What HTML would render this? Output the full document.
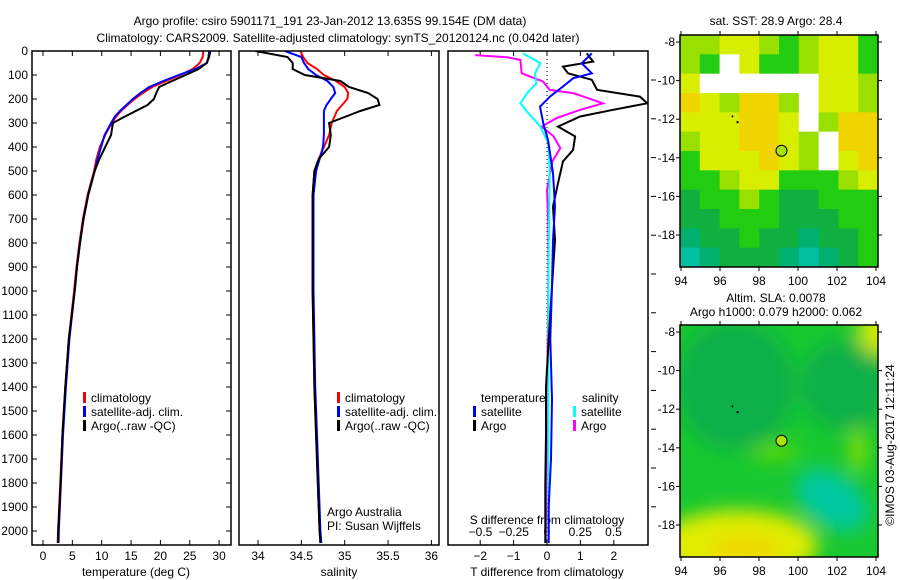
<!DOCTYPE html>
<html><head><meta charset="utf-8"><style>
body{margin:0;background:#fff;}
svg{display:block;font-family:"Liberation Sans",sans-serif;font-size:12px;}
</style></head><body>
<svg id="c" width="900" height="580" viewBox="0 0 900 580"></svg>
<script>
const depths=[0,25,50,75,100,125,150,175,200,225,250,275,300,350,400,450,500,600,700,800,900,1000,1200,1400,1600,1800,2000,2050];
const tempClim=[27.3,27.2,26.7,25.5,23.4,21.0,18.6,17.0,15.6,14.4,13.3,12.4,11.7,10.6,9.7,9.1,8.7,7.6,6.8,6.2,5.7,5.3,4.4,3.8,3.3,2.95,2.55,2.5];
const tempSat=[28.3,28.2,27.9,26.0,23.1,20.5,18.1,16.6,15.3,14.2,13.1,12.2,11.6,10.5,9.9,9.3,8.8,7.7,6.9,6.3,5.8,5.4,4.5,3.9,3.4,3.05,2.7,2.65];
const tempArgo=[28.5,28.3,27.9,26.5,24.3,22.0,19.8,19.3,18.9,17.8,15.8,13.8,11.9,11.6,10.6,9.6,8.8,7.7,6.9,6.3,5.8,5.4,4.4,3.8,3.3,3.0,2.6,2.55];
const salClim=[34.49,34.52,34.57,34.68,34.76,34.90,35.0,35.04,35.03,34.97,34.91,34.88,34.85,34.82,34.76,34.70,34.65,34.63,34.63,34.63,34.63,34.63,34.64,34.65,34.67,34.69,34.71,34.72];
const salSat=[34.31,34.50,34.53,34.58,34.67,34.80,34.87,34.89,34.84,34.79,34.76,34.76,34.76,34.76,34.75,34.71,34.67,34.64,34.64,34.64,34.64,34.64,34.65,34.66,34.68,34.70,34.72,34.73];
const salArgo=[33.97,34.34,34.40,34.40,34.54,34.95,35.05,35.27,35.38,35.40,35.18,35.0,34.82,34.84,34.82,34.70,34.65,34.63,34.63,34.63,34.63,34.63,34.64,34.65,34.67,34.69,34.71,34.72];
const tdArgoDepth=[10,44,65,93,120,162,190,218,245,273,315,356,412,460,551,648,787,981,1200,1400,1600,1800,2050];
const tdArgo=[1.19,1.38,0.48,0.63,1.34,1.5,2.78,3.0,1.98,0.99,0.33,0.84,0.78,0.48,0.33,0.18,0.24,0.15,0.05,-0.03,-0.03,-0.05,-0.05];
const tdSatDepth=[10,51,93,113,148,190,232,301,370,509,648,787,981,1200,1450,1700,1900,2050];
const tdSat=[1.34,1.04,1.34,0.79,0.48,0.09,-0.21,-0.11,0.03,0.18,0.24,0.18,0.15,0.1,0.15,0.12,0.05,0.05];
const sdArgoDepth=[17,26,37,93,106,127,162,176,218,245,280,315,356,405,460,579,718,981,1500,2050];
const sdArgo=[-0.54,-0.30,-0.20,-0.19,-0.13,-0.03,0.02,0.20,0.42,0.25,0.07,-0.04,0.05,0.10,0.04,0,0.01,0.01,0,-0.01];
const sdSatDepth=[10,51,93,134,176,218,259,315,384,509,981,1500,2050];
const sdSat=[-0.18,-0.05,-0.09,-0.08,-0.15,-0.20,-0.14,-0.05,0.01,0.02,0.01,0.01,0.01];
const depthTicks=[0,100,200,300,400,500,600,700,800,900,1000,1100,1200,1300,1400,1500,1600,1700,1800,1900,2000];
const tempTicks=[0,5,10,15,20,25,30];
const salTicks=[34,34.5,35,35.5,36];
const tdTicks=[-2,-1,0,1,2];
const sdTicks=[-0.5,-0.25,0,0.25,0.5];
const lonTicks=[94,96,98,100,102,104];
const latTicks=[-8,-10,-12,-14,-16,-18];
const sstGrid=["LLYYLGLYYG","LGWYGGLYYG","YWWWWWWYYL","OYLOOLWYYL","YYYOOYWLOO","LYYOOYLWOO","GYYYOYLWYO","GGLYYGGGLY","DGGLGDDGGG","DDGGGDDDGG","TDDGDDTDDG","CTDDDTCTDG"];
const argoLon=99.154, argoLat=-13.635;

const NS="http://www.w3.org/2000/svg";
const svg=document.getElementById('c');
function mk(tag,attrs,parent){const e=document.createElementNS(NS,tag);for(const k in attrs)e.setAttribute(k,attrs[k]);(parent||svg).appendChild(e);return e;}
function txt(x,y,s,anchor,parent,name){const t=mk('text',{x:x,y:y,'text-anchor':anchor||'start'},parent);t.textContent=s;

return t;}
const yD=d=>51+d*0.24;
const P1={l:32,r:231},P2={l:239,r:439},P3={l:448,r:648},TOP=51,BOT=545;
const xT=v=>43+v*5.87, xS=v=>258+(v-34)*86.7, xTd=v=>547+v*33.4, xSd=v=>547+v*133;

txt(330,25,"Argo profile: csiro 5901171_191 23-Jan-2012 13.635S 99.154E (DM data)","middle",null,"title-line-1");
txt(338,42,"Climatology: CARS2009. Satellite-adjusted climatology: synTS_20120124.nc (0.042d later)","middle",null,"title-line-2");

const defs=mk('defs',{});
[[P1,'c1'],[P2,'c2'],[P3,'c3']].forEach(([p,id])=>{const cp=mk('clipPath',{id:id},defs);mk('rect',{x:p.l,y:TOP,width:p.r-p.l,height:BOT-TOP},cp);});

function line(xs,ds,fx,color,clip,name){
  const pts=xs.map((v,i)=>fx(v).toFixed(1)+','+yD(ds[i]).toFixed(1)).join(' ');
  const pl=mk('polyline',{points:pts,fill:'none',stroke:color,'stroke-width':2,'clip-path':'url(#'+clip+')'});
  
  
}
function frame(p,name){const r=mk('rect',{x:p.l,y:TOP,width:p.r-p.l,height:BOT-TOP,fill:'none',stroke:'#000','stroke-width':1.5});

}

depthTicks.forEach(d=>{const y=yD(d);txt(28,y+4,String(d),'end',null,'y-tick-label');
 mk('line',{x1:P1.l,x2:P1.l+5,y1:y,y2:y,stroke:'#000'});mk('line',{x1:P1.r-5,x2:P1.r,y1:y,y2:y,stroke:'#000'});});
function xticks(vals,fx,p,labelY,fmt){vals.forEach(v=>{const x=fx(v);mk('line',{x1:x,x2:x,y1:BOT,y2:BOT-5,stroke:'#000'});mk('line',{x1:x,x2:x,y1:TOP,y2:TOP+5,stroke:'#000'});
 if(labelY)txt(x,labelY,fmt?fmt(v):String(v),'middle',null,'x-tick-label');});}
xticks(tempTicks,xT,P1,560);
xticks(salTicks,xS,P2,560);
xticks(tdTicks,xTd,P3,560,v=>v<0?'\u2212'+(-v):String(v));
sdTicks.forEach(v=>txt(xSd(v),536,v<0?'\u2212'+(-v):String(v),'middle',null,'s-diff-tick-label'));
for(let y=80;y<=530;y+=38.8)mk('line',{x1:P3.r+3,x2:P3.r+8,y1:y,y2:y,stroke:'#000'});
txt(136,576,"temperature (deg C)","middle",null,"x-axis-title-temperature");
txt(339,576,"salinity","middle",null,"x-axis-title-salinity");
txt(547,576,"T difference from climatology","middle",null,"x-axis-title-t-diff");
txt(547,524,"S difference from climatology","middle",null,"x-axis-title-s-diff");

line(tempClim,depths,xT,'#ff0000','c1','temp-climatology-line');
line(tempSat,depths,xT,'#0000ff','c1','temp-satellite-line');
line(tempArgo,depths,xT,'#000000','c1','temp-argo-line');
line(salClim,depths,xS,'#ff0000','c2','sal-climatology-line');
line(salSat,depths,xS,'#0000ff','c2','sal-satellite-line');
line(salArgo,depths,xS,'#000000','c2','sal-argo-line');
mk('line',{x1:547,x2:547,y1:TOP,y2:BOT,stroke:'#000','stroke-dasharray':'1,3'});
line(sdArgo,sdArgoDepth,xSd,'#ff00ff','c3','s-diff-argo-line');
line(sdSat,sdSatDepth,xSd,'#00ffff','c3','s-diff-satellite-line');
line(tdArgo,tdArgoDepth,xTd,'#000000','c3','t-diff-argo-line');
line(tdSat,tdSatDepth,xTd,'#0000ff','c3','t-diff-satellite-line');
frame(P1,'temperature-panel');frame(P2,'salinity-panel');frame(P3,'difference-panel');

function leg(x,y,color,label,name){mk('rect',{x:x,y:y-10,width:3,height:11,fill:color});txt(x+8,y,label,'start',null,name);}
leg(83,402,'#ff0000','climatology','legend-climatology');
leg(83,416,'#0000ff','satellite-adj. clim.','legend-satellite');
leg(83,430,'#000000','Argo(..raw -QC)','legend-argo');
leg(337,402,'#ff0000','climatology','legend-climatology-2');
leg(337,416,'#0000ff','satellite-adj. clim.','legend-satellite-2');
leg(337,430,'#000000','Argo(..raw -QC)','legend-argo-2');
txt(481,402,'temperature','start',null,'legend-temperature-heading');
txt(582,402,'salinity','start',null,'legend-salinity-heading');
leg(473,416,'#0000ff','satellite','legend-t-satellite');
leg(473,430,'#000000','Argo','legend-t-argo');
leg(573,416,'#00ffff','satellite','legend-s-satellite');
leg(573,430,'#ff00ff','Argo','legend-s-argo');
txt(327,516,'Argo Australia','start',null,'credit-argo-australia');
txt(327,530,'PI: Susan Wijffels','start',null,'credit-pi');

const M1={l:680,r:878,t:35,b:267},M2={l:680,r:878,t:325,b:557};
const lonX=(m,v)=>m.l+1+(v-94)*19.5, latY=(m,v)=>m.t+7+(-8-v)*19.3;
const col={L:'#99e000',G:'#22cc10',Y:'#d8ee00',O:'#f0d400',D:'#10b040',T:'#00b070',C:'#00c0a0',W:'#ffffff'};
const g1=mk('g',{});
const cw=(M1.r-M1.l)/10, ch=(M1.b-M1.t)/12;
sstGrid.forEach((row,r)=>{[...row].forEach((k,c)=>{mk('rect',{x:M1.l+c*cw,y:M1.t+r*ch,width:cw+0.5,height:ch+0.5,fill:col[k]},g1);});});
const cp4=mk('clipPath',{id:'m2'},defs);mk('rect',{x:M2.l,y:M2.t,width:M2.r-M2.l,height:M2.b-M2.t},cp4);
const flt=mk('filter',{id:'bl',x:'-50%',y:'-50%',width:'200%',height:'200%'},defs);mk('feGaussianBlur',{stdDeviation:9},flt);
const g2=mk('g',{'clip-path':'url(#m2)'});
mk('rect',{x:M2.l,y:M2.t,width:198,height:232,fill:'#18c830'},g2);
const g2b=mk('g',{filter:'url(#bl)'},g2);
mk('ellipse',{cx:735,cy:385,rx:60,ry:65,fill:'#08b048'},g2b);
mk('ellipse',{cx:845,cy:385,rx:45,ry:45,fill:'#08b048'},g2b);
mk('ellipse',{cx:832,cy:500,rx:40,ry:26,fill:'#00c8a0',transform:'rotate(35 832 500)'},g2b);
mk('ellipse',{cx:738,cy:545,rx:80,ry:35,fill:'#e0ec00'},g2b);
mk('ellipse',{cx:745,cy:550,rx:35,ry:14,fill:'#f0d800'},g2b);
mk('ellipse',{cx:878,cy:330,rx:20,ry:25,fill:'#d0e800'},g2b);
mk('ellipse',{cx:858,cy:450,rx:8,ry:22,fill:'#90e000'},g2b);
mk('ellipse',{cx:775,cy:452,rx:25,ry:8,fill:'#60d800'},g2b);
[M1,M2].forEach((m,i)=>{
 const r=mk('rect',{x:m.l,y:m.t,width:m.r-m.l,height:m.b-m.t,fill:'none',stroke:'#000','stroke-width':1.5});
 
 
 lonTicks.forEach(v=>{const x=lonX(m,v);mk('line',{x1:x,x2:x,y1:m.b,y2:m.b+4,stroke:'#000'});mk('line',{x1:x,x2:x,y1:m.t,y2:m.t-4,stroke:'#000'});txt(x,m.b+18,String(v),'middle',null,'lon-tick-label');});
 latTicks.forEach(v=>{const y=latY(m,v);mk('line',{x1:m.l,x2:m.l-4,y1:y,y2:y,stroke:'#000'});mk('line',{x1:m.r,x2:m.r+4,y1:y,y2:y,stroke:'#000'});txt(675,y+4,String(v),'end',null,'lat-tick-label');});
 const cc=mk('circle',{cx:lonX(m,argoLon),cy:latY(m,argoLat),r:5.5,fill:'#a8e400',stroke:'#000','stroke-width':1});
 
 
 mk('rect',{x:lonX(m,96.6),y:latY(m,-11.8),width:1.5,height:2,fill:'#000'});
 mk('rect',{x:lonX(m,96.85),y:latY(m,-12.1),width:2,height:2,fill:'#000'});
});
txt(776,25,'sat. SST: 28.9 Argo: 28.4','middle',null,'sst-map-title');
txt(776,302,'Altim. SLA: 0.0078','middle',null,'sla-map-title');
txt(776,316,'Argo h1000: 0.079 h2000: 0.062','middle',null,'sla-map-subtitle');
const v=txt(0,0,'\u00A9IMOS 03-Aug-2017 12:11:24','middle',null,'timestamp');
v.setAttribute('transform','translate(894 445) rotate(-90)');
</script>
</body></html>
